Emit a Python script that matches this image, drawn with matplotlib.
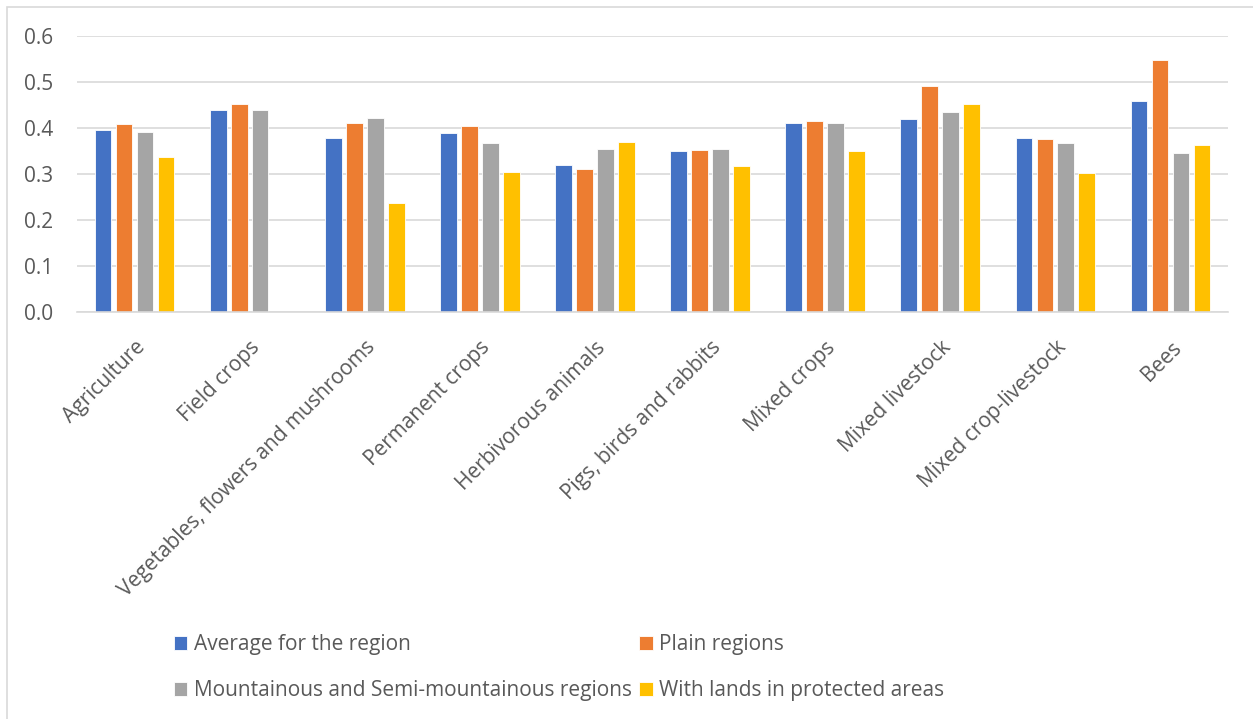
import numpy as np
import matplotlib.pyplot as plt
from matplotlib.patches import Rectangle

categorias = ['Agriculture', 'Field crops', 'Vegetables, flowers and mushrooms',
              'Permanent crops', 'Herbivorous animals', 'Pigs, birds and rabbits',
              'Mixed crops', 'Mixed livestock', 'Mixed crop-livestock', 'Bees']

media_regiao = [0.395, 0.439, 0.379, 0.390, 0.319, 0.349, 0.410, 0.419, 0.379, 0.459]
planicie = [0.408, 0.452, 0.411, 0.405, 0.310, 0.352, 0.416, 0.492, 0.377, 0.548]
montanha = [0.392, 0.439, 0.421, 0.367, 0.354, 0.354, 0.411, 0.435, 0.367, 0.345]
protegidas = [0.336, np.nan, 0.237, 0.304, 0.369, 0.317, 0.349, 0.452, 0.302, 0.363]

series = ['Average for the region', 'Plain regions',
          'Mountainous and Semi-mountainous regions', 'With lands in protected areas']
cores = ['#4472C4', '#ED7D31', '#A5A5A5', '#FFC000']

plt.rcParams['font.family'] = ['Open Sans', 'DejaVu Sans']
texto = '#595959'

fig = plt.figure(figsize=(12.53, 7.19), dpi=100)
# moldura do grafico
fig.patches.append(Rectangle((7 / 1253, -0.1), 1.2, 1 - 7 / 719 + 0.1,
                             transform=fig.transFigure, fill=False,
                             edgecolor='#D9D9D9', linewidth=1.2))

ax = fig.add_axes([77 / 1253, 1 - 312 / 719, (1228 - 77) / 1253, (312 - 36) / 719])

x = np.arange(len(categorias))
passo = 0.182
largura = 0.145
barras = []
for i, (vals, nome, cor) in enumerate(zip([media_regiao, planicie, montanha, protegidas], series, cores)):
    b = ax.bar(x + (i - 1.5) * passo, vals, largura, color=cor, label=nome,
               edgecolor='white', linewidth=0.6)
    barras.append(b)

ax.set_xlim(-0.5, len(categorias) - 0.5)
ax.set_ylim(0, 0.6)
ax.set_yticks(np.arange(0, 0.61, 0.1))
ax.set_yticklabels([f'{v:.1f}' for v in np.arange(0, 0.61, 0.1)])
ax.yaxis.grid(True, color='#D9D9D9', linewidth=1.2)
ax.set_axisbelow(True)
for lado in ['top', 'right', 'left']:
    ax.spines[lado].set_visible(False)
ax.spines['bottom'].set_color('#D9D9D9')
ax.spines['bottom'].set_linewidth(1.2)
ax.tick_params(axis='y', length=0, labelsize=15, colors=texto, pad=17)
ax.tick_params(axis='x', length=0, labelsize=15, colors=texto, pad=18)
ax.set_xticks(x)
ax.set_xticklabels(categorias, rotation=45, ha='right', va='top', rotation_mode='anchor')

# legenda em duas colunas, preenchida por linha
ordem = [0, 2, 1, 3]
fig.legend([barras[k] for k in ordem], [series[k] for k in ordem],
           loc='upper left', bbox_to_anchor=(166 / 1253, 1 - 626 / 719), ncol=2,
           frameon=False, fontsize=15, labelcolor=texto, borderaxespad=0,
           handlelength=0.63, handleheight=0.63, handletextpad=0.29,
           columnspacing=0.38, labelspacing=1.2)

fig.savefig('out.png', dpi=100)
